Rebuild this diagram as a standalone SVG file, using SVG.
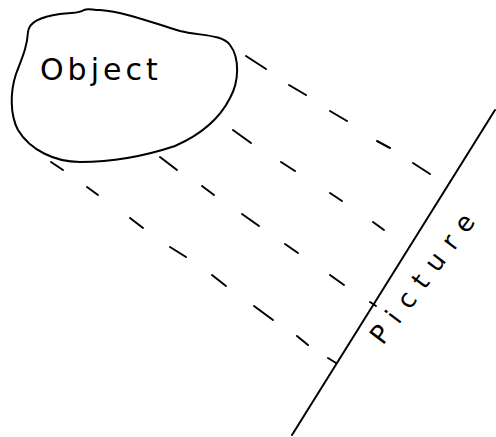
<svg xmlns="http://www.w3.org/2000/svg" width="496" height="437" viewBox="0 0 496 437">
<style>
.ink{fill:none;stroke:#000;stroke-width:2;stroke-linecap:round;stroke-linejoin:round}
.dash{fill:none;stroke:#000;stroke-width:2;stroke-linecap:round}
.hand{font-family:"DejaVu Sans","Liberation Sans",sans-serif;fill:#000}
</style>
<rect width="496" height="437" fill="#fff"/>
<g id="object">
<path class="ink" d="M28,32 C29,22 40,17 60,14 C72,12 78,14 84,10 C88,8 92,10 100,10 C125,12 150,22 180,31 C200,36 222,34 230,45 C240,58 239,82 230,98 C220,118 200,135 175,146 C145,156 110,162 80,162 C55,162 30,150 18,130 C10,115 10,92 16,74 C22,58 27,48 28,32 Z"/>
<text class="hand" x="40" y="80" font-size="30" letter-spacing="4">Object</text>
</g>
<g id="picture">
<line class="ink" x1="495" y1="110" x2="292" y2="435"/>
<text class="hand" x="428" y="288" font-size="26" letter-spacing="11" text-anchor="middle" transform="rotate(-53 422 279)">Picture</text>
</g>
<g id="connectors">
<path class="dash" d="M246,56L266,69M289,85L306,95M330,111L347,121M377,141L390,148M413,163L430,174"/>
<path class="dash" d="M233,130L251,143M281,162L295,171M330,193L342,201M373,222L384,230"/>
<path class="dash" d="M160,157L177,170M202,186L214,195M242,214L259,226M285,244L298,253M330,275L344,285M370,302L376,306"/>
<path class="dash" d="M51,162L63,170M87,187L98,195M130,218L143,228M170,247L186,257M212,275L226,286M254,306L273,320M297,336L308,345M328,358L336,363"/>
</g>
</svg>
